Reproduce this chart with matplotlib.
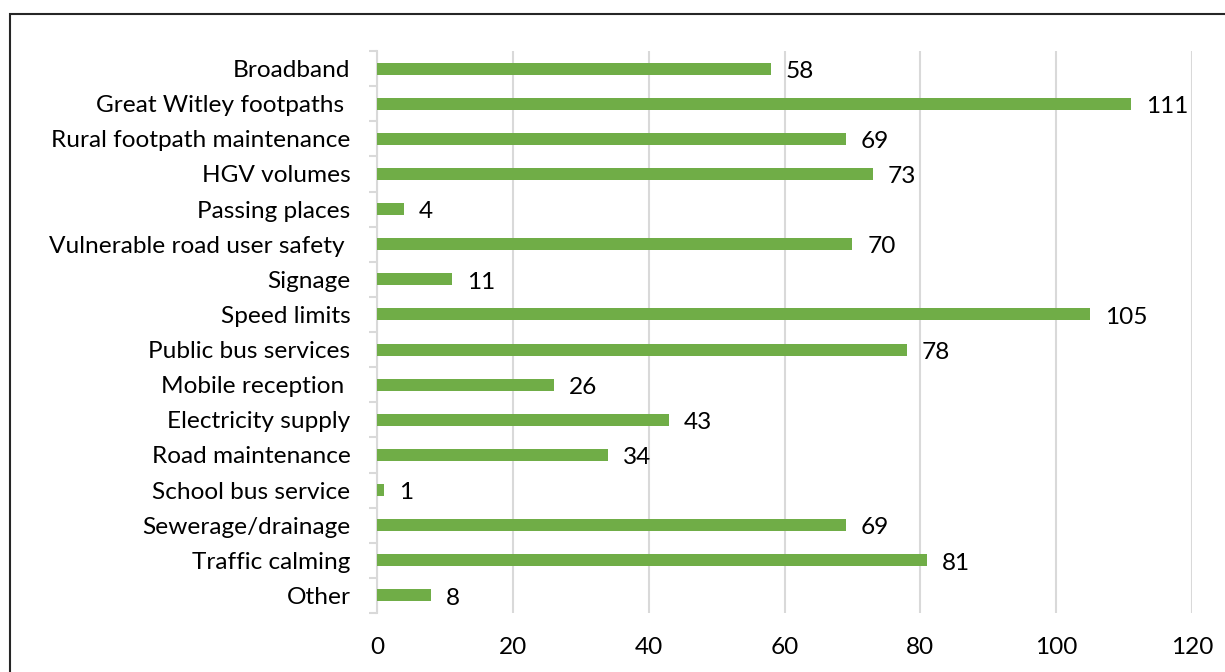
import matplotlib.pyplot as plt
import matplotlib.patches as mpatches

plt.rcParams['font.family'] = ['Lato', 'DejaVu Sans']

categories = ['Broadband', 'Great Witley footpaths ', 'Rural footpath maintenance',
              'HGV volumes', 'Passing places', 'Vulnerable road user safety ',
              'Signage', 'Speed limits', 'Public bus services', 'Mobile reception ',
              'Electricity supply', 'Road maintenance', 'School bus service',
              'Sewerage/drainage', 'Traffic calming', 'Other']
counts = [58, 111, 69, 73, 4, 70, 11, 105, 78, 26, 43, 34, 1, 69, 81, 8]
x_ticks = [0, 20, 40, 60, 80, 100, 120]

GREEN = '#70AD47'
FS = 17.6

fig = plt.figure(figsize=(12.25, 6.72), dpi=100)
ax = fig.add_axes([377 / 1225, 1 - 613 / 672, (1192 - 377) / 1225, (613 - 51) / 672])

pos = list(range(len(categories)))
ax.barh(pos, counts, height=0.34, color=GREEN, zorder=3)
for y, v in zip(pos, counts):
    ax.text(v + 2.2, y + 0.08, str(v), va='center', ha='left', fontsize=FS, color='black')

ax.set_ylim(len(categories) - 0.5, -0.5)
ax.set_yticks(pos)
ax.set_yticklabels(categories)
ax.set_yticks([p - 0.5 for p in pos] + [len(categories) - 0.5], minor=True)

ax.set_xlim(0, 120)
ax.set_xticks(x_ticks)
ax.xaxis.grid(True, color='#D9D9D9', linewidth=1.5, zorder=0)

for s in ['top', 'right', 'bottom']:
    ax.spines[s].set_visible(False)
ax.spines['left'].set_color('#D9D9D9')
ax.spines['left'].set_linewidth(1.5)

ax.tick_params(axis='y', which='major', length=0, pad=19, labelsize=FS)
ax.tick_params(axis='y', which='minor', length=6, width=1.5, color='#D9D9D9')
ax.tick_params(axis='x', length=0, pad=17, labelsize=FS)

# frame around the whole chart
fig.patches.append(mpatches.Rectangle((10 / 1225, -0.2), 1.3, 1.2 - 14 / 672,
                                      transform=fig.transFigure, fill=False,
                                      edgecolor='#262626', linewidth=1.5))

plt.savefig('out.png', dpi=100, facecolor='white')
